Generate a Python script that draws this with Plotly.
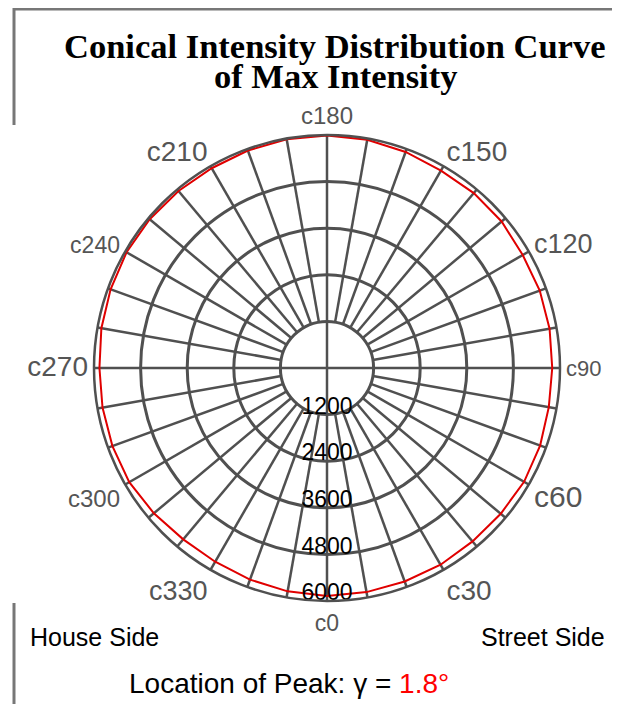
import plotly.graph_objects as go

# ---------------- data ----------------
angles_c = [0, 10, 20, 30, 40, 50, 60, 70, 80, 90, 100, 110, 120, 130, 140, 150, 160, 170,
            180, 190, 200, 210, 220, 230, 240, 250, 260, 270, 280, 290, 300, 310, 320, 330, 340, 350, 360]
max_intensity = [5870, 5860, 5850, 5850, 5830, 5840, 5860, 5840, 5800, 5800, 5820, 5830, 5820, 5870,
                 5880, 5870, 5920, 5970, 5990, 5980, 5960, 5940, 5950, 5960, 5960, 5930, 5900, 5860,
                 5870, 5880, 5880, 5820, 5760, 5760, 5800, 5840, 5870]
angle_ticks = [0, 30, 60, 90, 120, 150, 180, 210, 240, 270, 300, 330]
angle_labels = ["c0", "c30", "c60", "c90", "c120", "c150", "c180", "c210", "c240", "c270", "c300", "c330"]
radial_ticks = [1200, 2400, 3600, 4800, 6000]
radial_labels = ["1200", "2400", "3600", "4800", "6000"]
spoke_angles = list(range(0, 360, 10))

# label sizes (style only)
angle_label_sizes = [23, 28, 30, 22, 27, 28, 24, 28, 23, 28, 24, 27]

GRID = "#505050"
RMAX = 6000
INNER = 1200

fig = go.Figure()

# spokes: cardinal ones through the centre, others from the inner ring
sp_t, sp_r = [], []
for a in spoke_angles:
    start = 0 if a % 90 == 0 else INNER
    sp_t += [a, a, None]
    sp_r += [start, RMAX, None]
fig.add_trace(go.Scatterpolar(theta=sp_t, r=sp_r, mode="lines",
                              line=dict(color=GRID, width=2.5), hoverinfo="skip", showlegend=False))

# the curve
fig.add_trace(go.Scatterpolar(theta=angles_c, r=max_intensity, mode="lines",
                              line=dict(color="#e00000", width=2), showlegend=False))

# radial labels centred on the c0 spoke, slightly inside each ring
lab_r = [v - 170 for v in radial_ticks]
fig.add_trace(go.Scatterpolar(theta=[0] * len(radial_ticks), r=lab_r, mode="text",
                              text=radial_labels, textposition="middle center",
                              textfont=dict(family="Liberation Sans, Arial", size=23, color="black"),
                              hoverinfo="skip", showlegend=False, cliponaxis=False))

ticktext = [f"<span style='font-size:{s}px'>{t}</span>" for t, s in zip(angle_labels, angle_label_sizes)]

# page has an 8px body margin; figure coordinates = page coordinates - 8
W, H = 612, 696
cx, cy, R = 319, 360, 233
fig.update_layout(
    width=W, height=H,
    margin=dict(l=0, r=0, t=0, b=0),
    paper_bgcolor="white",
    showlegend=False,
    polar=dict(
        domain=dict(x=[(cx - R) / W, (cx + R) / W], y=[(H - cy - R) / H, (H - cy + R) / H]),
        bgcolor="white",
        radialaxis=dict(range=[0, RMAX], tickvals=radial_ticks, showticklabels=False,
                        showline=False, ticks="", gridcolor=GRID, gridwidth=2.5),
        angularaxis=dict(rotation=-90, direction="counterclockwise",
                         tickvals=angle_ticks, ticktext=ticktext, showgrid=False,
                         showline=True, linecolor=GRID, linewidth=2.5, ticks="",
                         tickfont=dict(family="Liberation Sans, Arial", size=24, color="#555555")),
    ),
)

# title (two lines)
title_font = dict(family="Liberation Serif, Times New Roman", size=34.5, color="black")
fig.add_annotation(text="<b>Conical Intensity Distribution Curve</b>", x=327 / W, y=1 - 38 / H,
                   xref="paper", yref="paper", showarrow=False, xanchor="center", yanchor="middle",
                   font=title_font)
fig.add_annotation(text="<b>of Max Intensity</b>", x=327 / W, y=1 - 68 / H,
                   xref="paper", yref="paper", showarrow=False, xanchor="center", yanchor="middle",
                   font=title_font)

side_font = dict(family="Liberation Sans, Arial", size=25, color="black")
fig.add_annotation(text="House Side", x=20 / W, y=1 - 629 / H, xref="paper", yref="paper",
                   showarrow=False, xanchor="left", yanchor="middle", font=side_font)
fig.add_annotation(text="Street Side", x=599 / W, y=1 - 629 / H, xref="paper", yref="paper",
                   showarrow=False, xanchor="right", yanchor="middle", font=side_font)
fig.add_annotation(text="Location of Peak: γ = <span style='color:#ff0000'>1.8°</span>",
                   x=281 / W, y=1 - 675 / H, xref="paper", yref="paper",
                   showarrow=False, xanchor="center", yanchor="middle",
                   font=dict(family="Liberation Sans, Arial", size=28, color="black"))

# frame fragments
border = dict(color="#777777", width=3)
fig.add_shape(type="line", xref="paper", yref="paper", x0=6 / W, x1=6 / W, y0=1, y1=1 - 117 / H, line=border)
fig.add_shape(type="line", xref="paper", yref="paper", x0=6 / W, x1=1, y0=1 - 1 / H, y1=1 - 1 / H, line=border)
fig.add_shape(type="line", xref="paper", yref="paper", x0=610 / W, x1=610 / W, y0=1, y1=1 - 52 / H,
              line=dict(color="#999999", width=1))
fig.add_shape(type="line", xref="paper", yref="paper", x0=6 / W, x1=6 / W, y0=1 - 595 / H, y1=0, line=border)

fig.write_html("out.html")
